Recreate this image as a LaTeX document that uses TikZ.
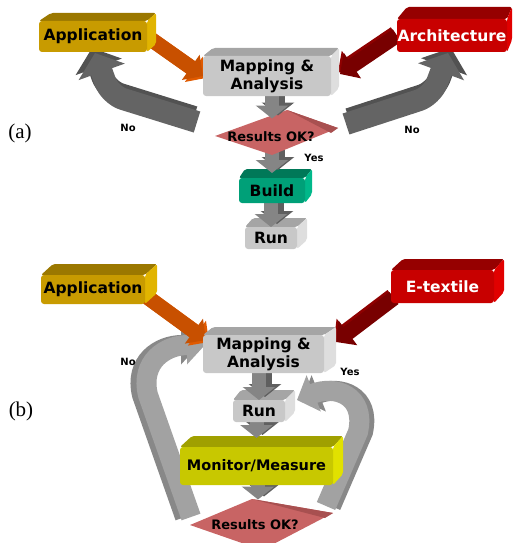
\documentclass[tikz,border=0pt]{standalone}
\usepackage{fontspec}
\newfontfamily\dv{DejaVu Sans}
\newfontfamily\tms{Liberation Serif}
\usetikzlibrary{arrows.meta,calc}
\definecolor{goldfront}{HTML}{C89B00}
\definecolor{goldtop}{HTML}{9B7800}
\definecolor{goldside}{HTML}{E1B400}
\definecolor{grayfront}{HTML}{C8C8C8}
\definecolor{graytop}{HTML}{A5A5A5}
\definecolor{grayside}{HTML}{DEDEDE}
\definecolor{redfront}{HTML}{C80000}
\definecolor{redtop}{HTML}{960000}
\definecolor{redside}{HTML}{E10000}
\definecolor{grnfront}{HTML}{00A078}
\definecolor{grntop}{HTML}{007858}
\definecolor{grnside}{HTML}{00B88A}
\definecolor{ylwfront}{HTML}{C8C800}
\definecolor{ylwtop}{HTML}{A0A000}
\definecolor{ylwside}{HTML}{E1E100}
\definecolor{diafront}{HTML}{C86464}
\definecolor{diaside}{HTML}{A85050}
\definecolor{connmain}{HTML}{858585}
\definecolor{connside}{HTML}{5F5F5F}
\definecolor{noAmain}{HTML}{646464}
\definecolor{noAside}{HTML}{525252}
\definecolor{loopmain}{HTML}{A2A2A2}
\definecolor{loopside}{HTML}{888888}
\definecolor{orgmain}{HTML}{C85000}
\definecolor{orgside}{HTML}{E05A00}
\definecolor{drmain}{HTML}{780000}
\definecolor{drside}{HTML}{8E0000}
\newcommand\tdbox[7]{%
  \fill[#3, rounded corners=2pt] (#1.north west) -- ++(#5,-#7) -- ($(#1.north east)+(#6,-#7)$) -- (#1.north east) -- cycle;
  \fill[#4, rounded corners=2pt] (#1.north east) -- ++(#6,-#7) -- ($(#1.south east)+(#6,-#7)$) -- (#1.south east) -- cycle;
  \fill[#2, rounded corners=3pt] (#1.south west) rectangle (#1.north east);
}
\begin{document}
\begin{tikzpicture}[x=1pt,y=-1pt,
  geo/.style={inner sep=0pt,outer sep=0pt,draw=none},
  txt/.style={inner sep=0pt,align=center,font=\dv\bfseries\fontsize{15.5}{18}\selectfont,text=black},
  small/.style={inner sep=0pt,font=\dv\bfseries\fontsize{10}{12}\selectfont,text=black},
  tag/.style={inner sep=0pt,font=\tms\fontsize{21}{24}\selectfont},
  gconn/.style={line width=14pt,draw=#1,-{Triangle[length=13pt,width=32pt]}},
  bigA/.style={line width=22pt,draw=#1,rounded corners=14pt,-{Triangle[length=20pt,width=48pt]}},
  loopB/.style={line width=20pt,draw=#1,-{Triangle[length=18pt,width=38pt]}},
  inarr/.style={line width=15pt,draw=#1,-{Triangle[length=15pt,width=30pt]}},
  sh/.style={transform canvas={shift={#1}}}
]
\useasboundingbox (0,0) rectangle (514,543);
\clip (0,0) rectangle (514,543);

% geometry of the boxes
\node[geo,minimum width=108pt,minimum height=31pt] (appA) at (93,36.5) {};
\node[geo,minimum width=128pt,minimum height=40pt] (mapA) at (267,76) {};
\node[geo,minimum width=110pt,minimum height=33pt] (archA) at (452,35.5) {};
\node[geo,minimum width=66pt,minimum height=25pt] (buildA) at (272,190.5) {};
\node[geo,minimum width=52pt,minimum height=22pt] (runA) at (271,238) {};
\node[geo] (resA) at (272,133) {};
\node[geo,minimum width=104pt,minimum height=29pt] (appB) at (93,289.5) {};
\node[geo,minimum width=103pt,minimum height=33pt] (etxB) at (442.5,286.5) {};
\node[geo,minimum width=121pt,minimum height=38pt] (mapB) at (263.5,354) {};
\node[geo,minimum width=52pt,minimum height=22pt] (runB) at (259,411) {};
\node[geo,minimum width=153pt,minimum height=38pt] (monB) at (256.5,466) {};
\node[geo] (resB) at (258,520) {};

% ---------- (a) ----------
\coordinate (noAL) at (197,122);
\coordinate (noAR) at (346,124);
\draw[bigA=noAside, sh={(-3,-5)}] (noAL) -- (110,95) -- ($(appA.south)+(2,1)$);
\draw[bigA=noAmain] (noAL) -- (110,95) -- ($(appA.south)+(2,1)$);
\draw[bigA=noAside, sh={(3,-5)}] (noAR) -- (432,96) -- ($(archA.south)+(-4,1)$);
\draw[bigA=noAmain] (noAR) -- (432,96) -- ($(archA.south)+(-4,1)$);

\draw[inarr=orgside, sh={(3,2)}] (appA.east) -- (mapA.west);
\draw[inarr=orgmain] (appA.east) -- (mapA.west);
\draw[inarr=drside, sh={(-2,-2)}] (archA.west) -- ($(mapA.east)+(9,-2)$);
\draw[inarr=drmain] (archA.west) -- ($(mapA.east)+(9,-2)$);

\tdbox{appA}{goldfront}{goldtop}{goldside}{12}{9}{8}
\node[txt] (appAt) at (appA) {Application};
\tdbox{archA}{redfront}{redtop}{redside}{10}{5}{12}
\node[txt,text=white] (archAt) at (archA) {Architecture};

\tdbox{runA}{grayfront}{graytop}{grayside}{8}{10}{9}
\node[txt] (runAt) at (runA) {Run};
\draw[gconn=connside, sh={(6,-3)}] (runA |- buildA.south) -- (runA.north);
\draw[gconn=connmain] (runA |- buildA.south) -- (runA.north);
\tdbox{buildA}{grnfront}{grntop}{grnside}{6}{7}{9}
\node[txt] (buildAt) at (buildA) {Build};
\draw[gconn=connside, sh={(6,-3)}, shorten >=5pt] (resA) -- (resA |- buildA.north);
\draw[gconn=connmain, shorten >=5pt] (resA) -- (resA |- buildA.north);
\fill[diafront] ($(resA)+(-57,3)$) -- ($(resA)+(15,-23)$) -- ($(resA)+(66,-5)$) -- ($(resA)+(0,22)$) -- cycle;
\fill[diaside] ($(resA)+(15,-23)$) -- ($(resA)+(66,-5)$) -- ($(resA)+(59,0)$) -- cycle;
\node[txt,font=\dv\bfseries\fontsize{13}{15}\selectfont] (resAt) at ($(resA)+(-1,4)$) {Results OK?};
\draw[gconn=connside, sh={(6,-3)}, shorten >=14pt] (resA |- mapA.south) -- (resA);
\draw[gconn=connmain, shorten >=14pt] (resA |- mapA.south) -- (resA);
\tdbox{mapA}{grayfront}{graytop}{grayside}{10}{8}{8}
\node[txt] (mapAt) at (mapA) {Mapping \&\\Analysis};

\node[small] (noAlbl) at (128,128) {No};
\node[small] (noArlbl) at (412,130) {No};
\node[small] (yesAlbl) at (314,158) {Yes};
\node[tag] (tagA) at (20,133) {(a)};

% ---------- (b) ----------
\coordinate (noBtail) at (191,517);
\coordinate (yesBtail) at (326,506);
\draw[loopB=loopside, sh={(-6,0)}] (noBtail) -- (148,395) .. controls (140,362) and (165,345) .. ($(mapB.west)+(2,-9)$);
\draw[loopB=loopmain] (noBtail) -- (148,395) .. controls (140,362) and (165,345) .. ($(mapB.west)+(2,-9)$);
\draw[loopB=loopside, sh={(5,0)}] (yesBtail) -- (358,432) .. controls (366,395) and (335,385) .. ($(runB.east)+(12,-11)$);
\draw[loopB=loopmain] (yesBtail) -- (358,432) .. controls (366,395) and (335,385) .. ($(runB.east)+(12,-11)$);

\draw[inarr=orgside, sh={(3,2)}] ($(appB.east)+(0,6)$) -- ($(mapB.north west)+(3,5)$);
\draw[inarr=orgmain] ($(appB.east)+(0,6)$) -- ($(mapB.north west)+(3,5)$);
\draw[inarr=drside, sh={(-2,-2)}] ($(etxB.south west)+(3,-5)$) -- ($(mapB.north east)+(12,7)$);
\draw[inarr=drmain] ($(etxB.south west)+(3,-5)$) -- ($(mapB.north east)+(12,7)$);

\tdbox{appB}{goldfront}{goldtop}{goldside}{12}{12}{11}
\node[txt] (appBt) at (appB) {Application};
\tdbox{etxB}{redfront}{redtop}{redside}{12}{10}{11}
\node[txt,text=white] (etxBt) at (etxB) {E-textile};

\fill[diafront] ($(resB)+(-68,5)$) -- ($(resB)+(-6,-21)$) -- ($(resB)+(75,-7)$) -- ($(resB)+(4,30)$) -- cycle;
\fill[diaside] ($(resB)+(-6,-21)$) -- ($(resB)+(75,-7)$) -- ($(resB)+(67,-2)$) -- cycle;
\node[txt,font=\dv\bfseries\fontsize{13}{15}\selectfont] (resBt) at ($(resB)+(-3,5)$) {Results OK?};
\draw[gconn=connside, sh={(6,-3)}, shorten >=20pt] (resB |- monB.south) -- (resB);
\draw[gconn=connmain, shorten >=20pt] (resB |- monB.south) -- (resB);
\tdbox{monB}{ylwfront}{ylwtop}{ylwside}{12}{10}{11}
\node[txt,font=\dv\bfseries\fontsize{14.5}{17}\selectfont] (monBt) at (monB) {Monitor/Measure};
\draw[gconn=connside, sh={(6,-3)}, shorten >=9pt] (monB |- runB.south) -- (monB.north);
\draw[gconn=connmain, shorten >=9pt] (monB |- runB.south) -- (monB.north);
\tdbox{runB}{grayfront}{graytop}{grayside}{8}{10}{10}
\node[txt] (runBt) at (runB) {Run};
\draw[gconn=connside, sh={(6,-3)}] (runB |- mapB.south) -- (runB.north);
\draw[gconn=connmain] (runB |- mapB.south) -- (runB.north);
\tdbox{mapB}{grayfront}{graytop}{grayside}{10}{12}{8}
\node[txt] (mapBt) at (mapB) {Mapping \&\\Analysis};

\node[small] (noBlbl) at (128,362) {No};
\node[small] (yesBlbl) at (350,372) {Yes};
\node[tag] (tagB) at (21,411) {(b)};
\end{tikzpicture}
\end{document}
